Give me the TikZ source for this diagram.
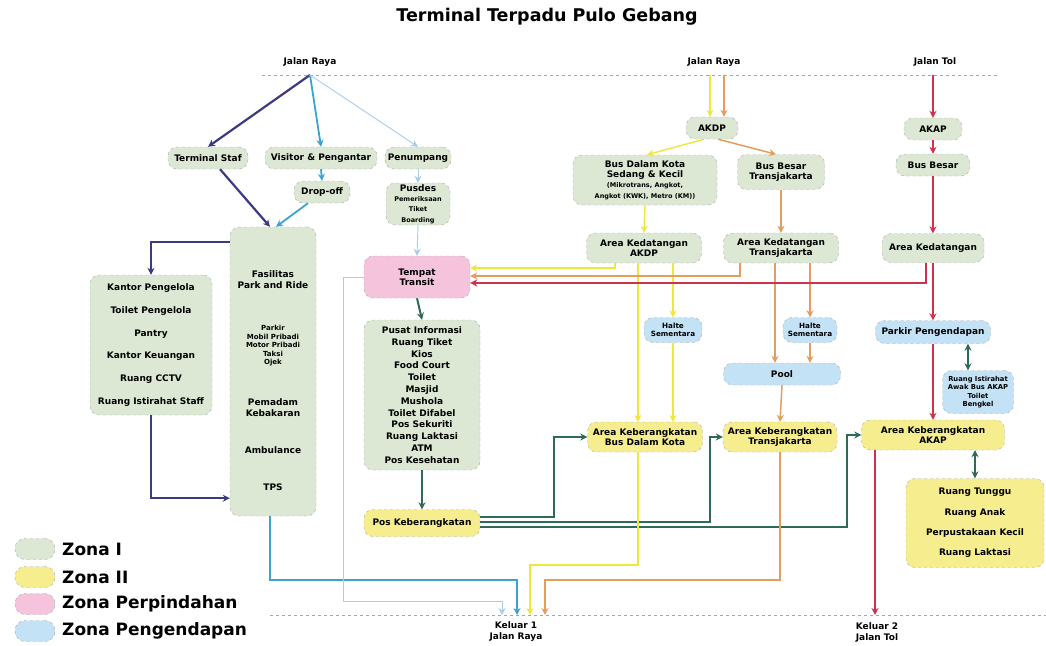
\documentclass[tikz,border=0pt]{standalone}
\usepackage{fontspec}
\setmainfont{DejaVu Sans}
\usetikzlibrary{arrows.meta}

\definecolor{hijau}{HTML}{DCE8D3}
\definecolor{kuning}{HTML}{F6EE8E}
\definecolor{merahmuda}{HTML}{F5C4DC}
\definecolor{birumuda}{HTML}{C4E2F5}
\definecolor{cstaf}{HTML}{3C3A80}
\definecolor{cvisit}{HTML}{3BA3CF}
\definecolor{cpass}{HTML}{A6CDEA}
\definecolor{cgreen}{HTML}{2E6A55}
\definecolor{cakdp}{HTML}{EFE83A}
\definecolor{ctj}{HTML}{E59D5E}
\definecolor{cakap}{HTML}{D2304F}

\newcommand{\kecil}{\fontsize{6.5}{7.8}\selectfont}

\tikzset{
  box/.style={draw=gray!65, dashed, rounded corners=9pt, align=center, inner sep=1pt,
    font=\bfseries\fontsize{9}{10.3}\selectfont},
  zonaI/.style={box, fill=hijau},
  zonaII/.style={box, fill=kuning},
  zonaPindah/.style={box, fill=merahmuda},
  zonaEndap/.style={box, fill=birumuda},
  sized/.style 2 args={minimum width=#1pt, minimum height=#2pt},
  wee/.style={font=\bfseries\fontsize{7}{8.5}\selectfont, align=center, inner sep=0pt},
  mid/.style={font=\bfseries\fontsize{9}{11}\selectfont, align=center, inner sep=0pt},
  road/.style={gray!70, line width=1pt, dash pattern=on 3pt off 3pt},
  flow/.style={-{Stealth[length=7pt,width=7pt]}},
  stafline/.style={flow, cstaf, line width=2.2pt},
  visitline/.style={flow, cvisit, line width=1.8pt},
  passline/.style={flow, cpass, line width=0.9pt},
  grnline/.style={flow, cgreen, line width=2pt},
  akdpline/.style={flow, cakdp, line width=1.4pt},
  tjline/.style={flow, ctj, line width=1.5pt},
  akapline/.style={flow, cakap, line width=2.2pt},
  legend/.style={font=\bfseries\fontsize{17}{18}\selectfont, anchor=west, inner sep=0pt},
}

\begin{document}
\begin{tikzpicture}[x=1pt, y=-1pt]
  \useasboundingbox (0,0) rectangle (1046,645);

  \node[font=\bfseries\fontsize{17.5}{19}\selectfont] (title) at (547,17) {Terminal Terpadu Pulo Gebang};

  % jalan masuk dan keluar
  \draw[road] (262,75) -- (1000,75);
  \draw[road] (270,615) -- (1046,615);
  \node[mid] (lblraya1) at (310,62) {Jalan Raya};
  \node[mid] (lblraya2) at (714,62) {Jalan Raya};
  \node[mid] (lbltol) at (935,62) {Jalan Tol};
  \node[mid] (keluar1) at (516,632) {Keluar 1\\Jalan Raya};
  \node[mid] (keluar2) at (877,632) {Keluar 2\\Jalan Tol};
  \coordinate (jr1) at (310,75);
  \coordinate (jr2) at (717,75);
  \coordinate (jt) at (933,75);
  \coordinate (out1a) at (502,615);
  \coordinate (out1b) at (517,615);
  \coordinate (out1c) at (530,615);
  \coordinate (out1d) at (545,615);
  \coordinate (out2) at (875,615);

  % kiri
  \node[zonaI, sized={80}{22}] (staf) at (208,158) {Terminal Staf};
  \node[zonaI, sized={112}{22}] (visitor) at (321,158) {Visitor \& Pengantar};
  \node[zonaI, sized={66}{22}] (penumpang) at (418,158) {Penumpang};
  \node[zonaI, sized={56}{22}] (dropoff) at (322,192) {Drop-off};
  \node[zonaI, sized={64}{42}] (pusdes) at (418,204) {Pusdes\\\kecil Pemeriksaan\\\kecil Tiket\\\kecil Boarding};
  \node[zonaI, sized={86}{289}] (fasil) at (273,371.5) {};
  \node[mid] (fasilA) at (273,280) {Fasilitas\\Park and Ride};
  \node[wee] (fasilB) at (273,346) {Parkir\\Mobil Pribadi\\Motor Pribadi\\Taksi\\Ojek};
  \node[mid] (fasilC) at (273,408) {Pemadam\\Kebakaran};
  \node[mid] (fasilD) at (273,450) {Ambulance};
  \node[mid] (fasilE) at (273,487) {TPS};
  \node[zonaI, sized={122}{140}] (kantor) at (151,345) {Kantor Pengelola\\[12.5pt]Toilet Pengelola\\[12.5pt]Pantry\\[12.5pt]Kantor Keuangan\\[12.5pt]Ruang CCTV\\[12.5pt]Ruang Istirahat Staff};

  % tengah
  \node[zonaPindah, sized={106}{42}] (transit) at (417,277) {Tempat\\Transit};
  \node[zonaI, sized={116}{150}, font=\bfseries\fontsize{9}{11.8}\selectfont] (pusat) at (422,395) {Pusat Informasi\\Ruang Tiket\\Kios\\Food Court\\Toilet\\Masjid\\Mushola\\Toilet Difabel\\Pos Sekuriti\\Ruang Laktasi\\ATM\\Pos Kesehatan};
  \node[zonaII, sized={116}{27}] (posberang) at (422,523) {Pos Keberangkatan};

  % AKDP dan Transjakarta
  \node[zonaI, sized={52}{22}] (akdp) at (712,128) {AKDP};
  \node[zonaI, sized={144}{50}] (busDK) at (645,180) {Bus Dalam Kota\\Sedang \& Kecil\\\kecil (Mikrotrans, Angkot,\\\kecil Angkot (KWK), Metro (KM))};
  \node[zonaI, sized={87}{35}] (busTJ) at (781,172) {Bus Besar\\Transjakarta};
  \node[zonaI, sized={115}{30}] (kedAKDP) at (644,248) {Area Kedatangan\\AKDP};
  \node[zonaI, sized={115}{30}] (kedTJ) at (781,248) {Area Kedatangan\\Transjakarta};
  \node[zonaEndap, sized={58}{25}, font=\bfseries\fontsize{7.2}{8.5}\selectfont] (halte1) at (673,330) {Halte\\Sementara};
  \node[zonaEndap, sized={54}{25}, font=\bfseries\fontsize{7.2}{8.5}\selectfont] (halte2) at (810,330) {Halte\\Sementara};
  \node[zonaEndap, sized={117}{22}] (pool) at (782,374) {Pool};
  \node[zonaII, sized={115}{30}] (kebBDK) at (645,437) {Area Keberangkatan\\Bus Dalam Kota};
  \node[zonaII, sized={114}{30}] (kebTJ) at (780,437) {Area Keberangkatan\\Transjakarta};

  % AKAP
  \node[zonaI, sized={58}{22}] (akap) at (933,129) {AKAP};
  \node[zonaI, sized={74}{22}] (busBesar) at (933,165) {Bus Besar};
  \node[zonaI, sized={102}{29}] (kedAKAP) at (933,248) {Area Kedatangan};
  \node[zonaEndap, sized={115}{23}] (parkir) at (933,332) {Parkir Pengendapan};
  \node[zonaEndap, sized={71}{43}, font=\bfseries\fontsize{6.8}{8.5}\selectfont] (istirahat) at (978,392) {Ruang Istirahat\\Awak Bus AKAP\\Toilet\\Bengkel};
  \node[zonaII, sized={143}{30}] (kebAKAP) at (933,435) {Area Keberangkatan\\AKAP};
  \node[zonaII, sized={138}{89}] (tunggu) at (975,523) {Ruang Tunggu\\[10pt]Ruang Anak\\[10pt]Perpustakaan Kecil\\[10pt]Ruang Laktasi};

  % alur staf
  \draw[stafline] (jr1) -- (staf.north);
  \draw[stafline] ([xshift=12pt]staf.south) -- ([xshift=-3pt]fasil.north);
  \draw[stafline] ([yshift=-15pt]fasil.north west) -| (kantor.north);
  \draw[stafline] (kantor.south) |- ([yshift=18pt]fasil.south west);

  % alur pengantar
  \draw[visitline] (jr1) -- (visitor.north);
  \draw[visitline] (visitor.south) -- (dropoff.north);
  \draw[visitline] ([xshift=-14pt]dropoff.south) -- ([xshift=3pt]fasil.north);
  \draw[visitline] ([xshift=-3pt]fasil.south) |- ([yshift=35pt]out1b) -- (out1b);

  % alur penumpang
  \draw[passline] (jr1) -- (penumpang.north);
  \draw[passline] (penumpang.south) -- (pusdes.north);
  \draw[passline] (pusdes.south) -- (transit.north);
  \draw[passline] (transit.west) -- ++(-20,0) |- ([yshift=14pt]out1a) -- (out1a);

  % keberangkatan
  \draw[grnline] (transit.south) -- (pusat.north);
  \draw[grnline] (pusat.south) -- (posberang.north);
  \draw[grnline] ([yshift=6pt]posberang.east) -| ([xshift=-33pt]kebBDK.west) -- (kebBDK.west);
  \draw[grnline] ([yshift=1pt]posberang.east) -| ([xshift=-13pt]kebTJ.west) -- (kebTJ.west);
  \draw[grnline] ([yshift=-4pt]posberang.east) -| ([xshift=-14pt]kebAKAP.west) -- (kebAKAP.west);
  \draw[grnline, {Stealth[length=7pt,width=7pt]}-{Stealth[length=7pt,width=7pt]}] ([xshift=35pt]parkir.south) -- ([xshift=-10pt]istirahat.north);
  \draw[grnline, {Stealth[length=7pt,width=7pt]}-{Stealth[length=7pt,width=7pt]}] ([xshift=42pt]kebAKAP.south) -- ([xshift=0pt]tunggu.north);

  % AKDP
  \draw[akdpline] ([xshift=-7pt]jr2) -- ([xshift=-2pt]akdp.north);
  \draw[akdpline] ([xshift=-8pt]akdp.south) -- ([xshift=2pt]busDK.north);
  \draw[akdpline] (busDK.south) -- (kedAKDP.north);
  \draw[akdpline] ([xshift=-29pt]kedAKDP.south) |- ([yshift=9pt]transit.east);
  \draw[akdpline] ([xshift=-6pt]kedAKDP.south) -- ([xshift=-7pt]kebBDK.north);
  \draw[akdpline] ([xshift=29pt]kedAKDP.south) -- (halte1.north);
  \draw[akdpline] (halte1.south) -- ([xshift=28pt]kebBDK.north);
  \draw[akdpline] ([xshift=-7pt]kebBDK.south) |- ([yshift=50pt]out1c) -- (out1c);

  % Transjakarta
  \draw[tjline] ([xshift=7pt]jr2) -- ([xshift=12pt]akdp.north);
  \draw[tjline] ([xshift=6pt]akdp.south) -- ([xshift=-5pt]busTJ.north);
  \draw[tjline] (busTJ.south) -- (kedTJ.north);
  \draw[tjline] ([xshift=-41pt]kedTJ.south) |- ([yshift=1pt]transit.east);
  \draw[tjline] ([xshift=-6pt]kedTJ.south) -- ([xshift=-7pt]pool.north);
  \draw[tjline] ([xshift=29pt]kedTJ.south) -- (halte2.north);
  \draw[tjline] (halte2.south) -- ([xshift=28pt]pool.north);
  \draw[tjline] (pool.south) -- (kebTJ.north);
  \draw[tjline] (kebTJ.south) |- ([yshift=35pt]out1d) -- (out1d);

  % AKAP
  \draw[akapline] (jt) -- (akap.north);
  \draw[akapline] (akap.south) -- (busBesar.north);
  \draw[akapline] (busBesar.south) -- (kedAKAP.north);
  \draw[akapline] ([xshift=-7pt]kedAKAP.south) |- ([yshift=-6pt]transit.east);
  \draw[akapline] (kedAKAP.south) -- (parkir.north);
  \draw[akapline] (parkir.south) -- (kebAKAP.north);
  \draw[akapline] ([xshift=-58pt]kebAKAP.south) -- (out2);

  % legenda
  \node[zonaI, sized={40}{21}, rounded corners=10pt] (lgI) at (35,549) {};
  \node[zonaII, sized={40}{21}, rounded corners=10pt] (lgII) at (35,577) {};
  \node[zonaPindah, sized={40}{21}, rounded corners=10pt] (lgP) at (35,604) {};
  \node[zonaEndap, sized={40}{21}, rounded corners=10pt] (lgE) at (35,631) {};
  \node[legend] (txI) at (62,549) {Zona I};
  \node[legend] (txII) at (62,577) {Zona II};
  \node[legend] (txP) at (62,604) {Zona Perpindahan};
  \node[legend] (txE) at (62,631) {Zona Pengendapan};
\end{tikzpicture}
\end{document}
